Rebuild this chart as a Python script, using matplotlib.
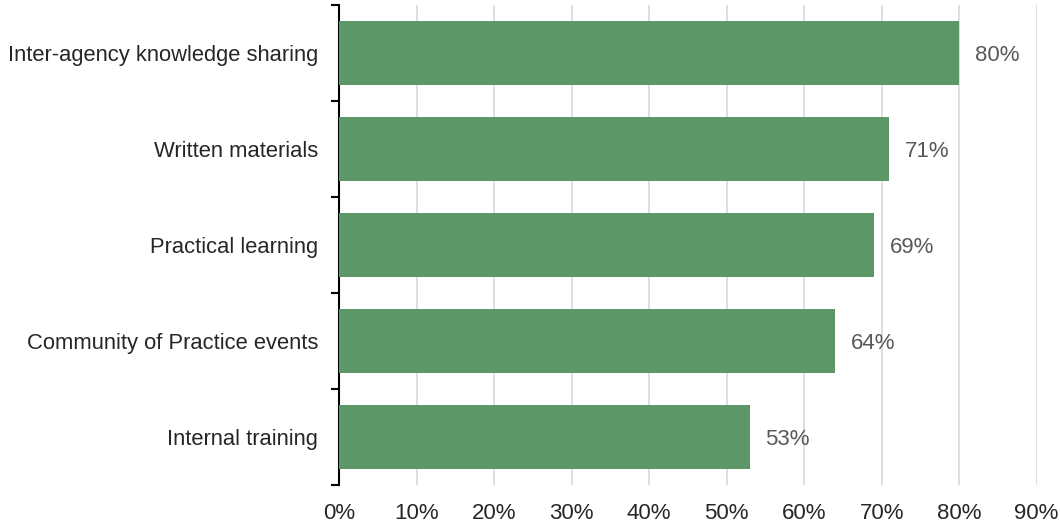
import numpy as np
import matplotlib
matplotlib.use("Agg")
import matplotlib.pyplot as plt
from matplotlib.ticker import FixedLocator

categories = ["Inter-agency knowledge sharing", "Written materials", "Practical learning",
              "Community of Practice events", "Internal training"]
values = [80, 71, 69, 64, 53]
xticks = [0, 10, 20, 30, 40, 50, 60, 70, 80, 90]

plt.rcParams['font.family'] = ['Liberation Sans', 'DejaVu Sans']

fig = plt.figure(figsize=(10.6, 5.24), dpi=100)
ax = fig.add_axes([0.3198, 0.0744, 0.978 - 0.3198, 0.9905 - 0.0744])

y = np.arange(len(categories))
ax.barh(y, values, height=0.67, color='#5B9768', zorder=3)
for yi, v in zip(y, values):
    ax.text(v + 2, yi, f"{v}%", va='center_baseline', ha='left', fontsize=16, color='#595959')

ax.set_xlim(0, 90)
ax.set_ylim(len(categories) - 0.5, -0.5)
ax.set_xticks(xticks)
ax.set_xticklabels([f"{t}%" for t in xticks], fontsize=16, color='#262626')
ax.set_yticks(y)
ax.set_yticklabels(categories, fontsize=15.8, color='#262626', va='center_baseline')
ax.yaxis.set_minor_locator(FixedLocator(np.arange(-0.5, len(categories), 1)))
ax.tick_params(axis='y', which='major', length=0, pad=15)
ax.tick_params(axis='y', which='minor', length=6, width=1.5, color='black')
ax.tick_params(axis='x', length=0, pad=13)

ax.grid(axis='x', color='#D9D9D9', linewidth=1.2, zorder=0)
for s in ['top', 'right', 'bottom']:
    ax.spines[s].set_visible(False)
ax.spines['left'].set_linewidth(1.5)
ax.spines['left'].set_color('black')

fig.savefig("out.png", dpi=100)
